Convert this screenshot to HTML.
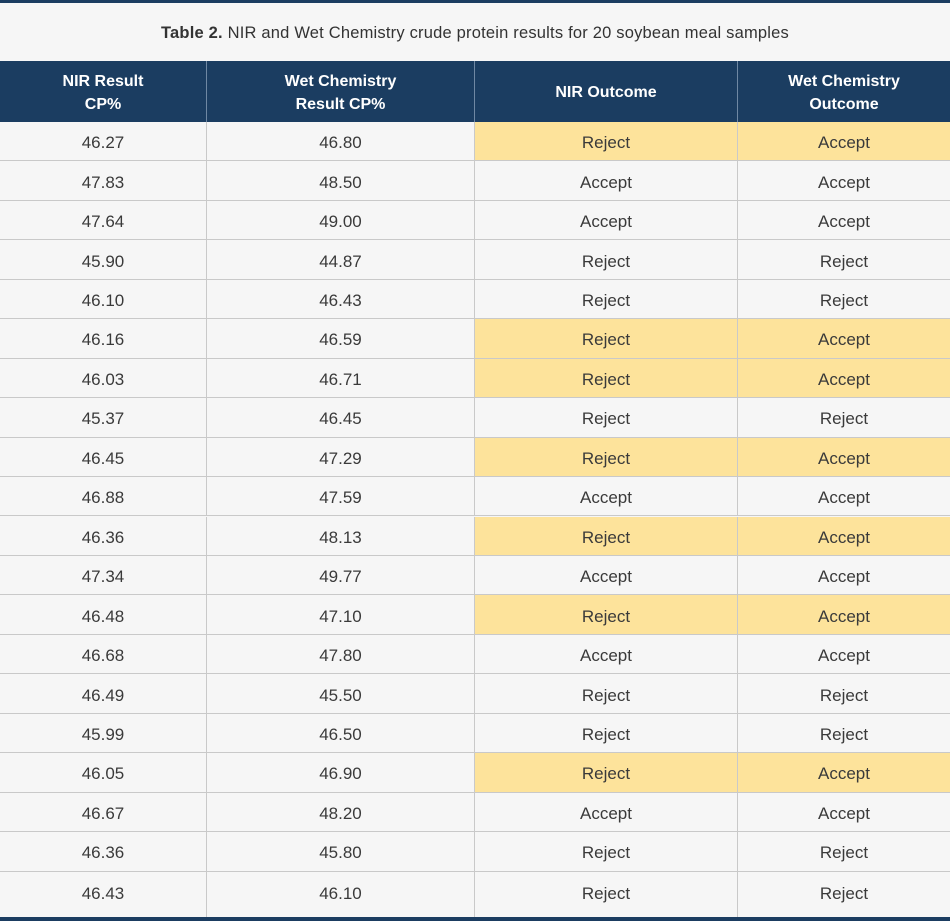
<!DOCTYPE html>
<html><head><meta charset="utf-8"><style>
*{margin:0;padding:0;box-sizing:border-box}
body{width:950px;height:921px;background:#f6f6f6;font-family:"Liberation Sans",sans-serif;position:relative;overflow:hidden;color:#333}
.top{position:absolute;left:0;top:0;width:950px;height:3px;background:#1b3d61}
.title{position:absolute;left:0;top:24px;width:950px;text-align:center;font-size:16.5px;color:#333;letter-spacing:0.2px}
.hdr{position:absolute;left:0;top:61px;width:950px;height:61px;background:#1b3d61}
.hc{position:absolute;top:0;height:61px;display:flex;align-items:center;justify-content:center;text-align:center;color:#fff;font-weight:bold;font-size:16px;line-height:23px;padding-top:2px;border-right:1px solid #6f88a3}
.row{position:absolute;left:0;width:950px;border-bottom:1px solid #c9c9c9}
.c{position:absolute;top:0;height:100%;display:flex;align-items:center;justify-content:center;font-size:17px;padding-top:4px;border-right:1px solid #c9c9c9;color:#3a3a3a}
.hl{background:#fde39b}
.bot{position:absolute;left:0;top:917px;width:950px;height:4px;background:#1b3d61}
</style></head><body>
<div class="top"></div>
<div class="title"><b>Table 2.</b> NIR and Wet Chemistry crude protein results for 20 soybean meal samples</div>
<div class="hdr">
<div class="hc" style="left:0;width:207px">NIR Result<br>CP%</div>
<div class="hc" style="left:207px;width:268px">Wet Chemistry<br>Result CP%</div>
<div class="hc" style="left:475px;width:263px">NIR Outcome</div>
<div class="hc" style="left:738px;width:212px;border-right:none">Wet Chemistry<br>Outcome</div>
</div>
<div id="rows"></div>
<div class="bot"></div>
<script>
var d=[["46.27","46.80","Reject","Accept",1],["47.83","48.50","Accept","Accept"],["47.64","49.00","Accept","Accept"],["45.90","44.87","Reject","Reject"],["46.10","46.43","Reject","Reject"],["46.16","46.59","Reject","Accept",1],["46.03","46.71","Reject","Accept",1],["45.37","46.45","Reject","Reject"],["46.45","47.29","Reject","Accept",1],["46.88","47.59","Accept","Accept"],["46.36","48.13","Reject","Accept",1],["47.34","49.77","Accept","Accept"],["46.48","47.10","Reject","Accept",1],["46.68","47.80","Accept","Accept"],["46.49","45.50","Reject","Reject"],["45.99","46.50","Reject","Reject"],["46.05","46.90","Reject","Accept",1],["46.67","48.20","Accept","Accept"],["46.36","45.80","Reject","Reject"],["46.43","46.10","Reject","Reject"]];
var L=[0,207,475,738,950],h="";
for(var i=0;i<20;i++){var t=122+i*39.45,hh=(i==19?917-t:39.45);
h+='<div class="row" style="top:'+t+'px;height:'+hh+'px'+(i==19?';border-bottom:none':'')+'">';
for(var j=0;j<4;j++){h+='<div class="c'+(d[i][4]&&j>=2?' hl':'')+'" style="left:'+L[j]+'px;width:'+(L[j+1]-L[j])+'px'+(j==3?';border-right:none':'')+(i==19?';padding-top:0':'')+'">'+d[i][j]+'</div>';}
h+='</div>';}
document.getElementById('rows').innerHTML=h;
</script>
</body></html>
